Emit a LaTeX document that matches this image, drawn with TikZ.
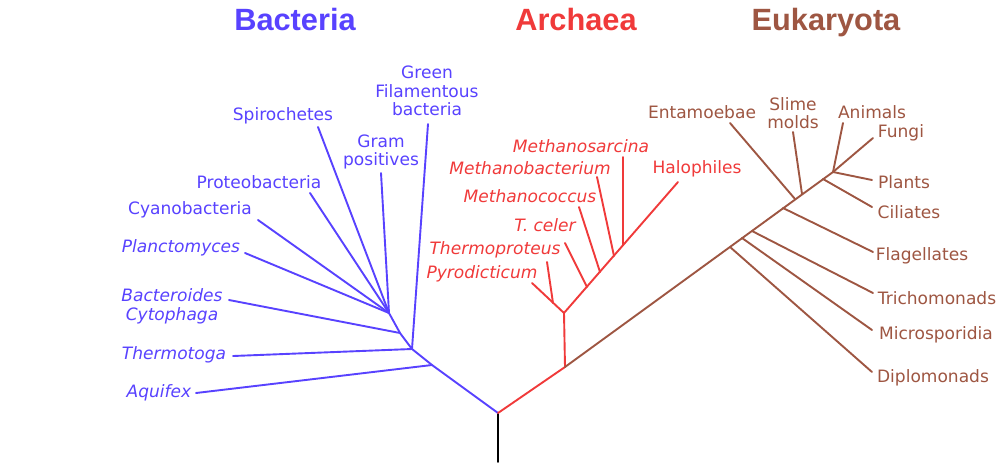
\documentclass[tikz,border=0pt]{standalone}
\usepackage{fontspec}
\setmainfont{DejaVu Sans}
\newfontfamily\titlefont{Liberation Sans}
\definecolor{bactc}{RGB}{88,66,255}
\definecolor{archc}{RGB}{240,58,58}
\definecolor{eukc}{RGB}{158,86,66}
\begin{document}
\begin{tikzpicture}[x=0.2mm,y=-0.2mm,
  br/.style={line width=0.38mm,line cap=round,line join=round},
  lab/.style={inner sep=0pt,align=center,font=\fontsize{9.7}{10.6}\selectfont},
  ilab/.style={lab,font=\fontsize{9.7}{10.6}\selectfont\itshape},
  ttl/.style={inner sep=0pt,anchor=base,font=\titlefont\bfseries\fontsize{17.5}{20}\selectfont}]
\useasboundingbox (0,0) rectangle (1000,462);
% titles
\node[ttl,text=bactc] (tb) at (295,30) {Bacteria};
\node[ttl,text=archc] (ta) at (576,30) {Archaea};
\node[ttl,text=eukc] (te) at (826,30) {Eukaryota};
% ---------- coordinates
\coordinate (bot) at (498,462);
\coordinate (root) at (498,413);
% bacteria
\coordinate (bA) at (432,365);
\coordinate (bT) at (412,349);
\coordinate (bB) at (400,333);
\coordinate (bF) at (389,313);
\coordinate (tAq) at (196,393);
\coordinate (tTh) at (233,356);
\coordinate (tGF) at (428,124);
\coordinate (tBa) at (229,300);
\coordinate (tPl) at (245,253);
\coordinate (tCy) at (258,220);
\coordinate (tPr) at (310,193);
\coordinate (tSp) at (318,127);
\coordinate (tGP) at (381,173);
% archaea
\coordinate (a0) at (565,367);
\coordinate (a1) at (564,313);
\coordinate (tHa) at (678,182);
\coordinate (tPy) at (532,283);
\coordinate (jTp) at (553,303);
\coordinate (tTp) at (547,262);
\coordinate (jTc) at (587,287);
\coordinate (tTc) at (565,243);
\coordinate (jMc) at (600,272);
\coordinate (tMc) at (579,207);
\coordinate (jMb) at (614,256);
\coordinate (tMb) at (597,177);
\coordinate (jMs) at (623,245);
\coordinate (tMs) at (623,157);
% eukaryota
\coordinate (e1) at (833,172);
\coordinate (jDi) at (730,247);
\coordinate (jMi) at (742,238);
\coordinate (jTr) at (752,231);
\coordinate (jFl) at (783,208);
\coordinate (jEn) at (795,199);
\coordinate (jSl) at (802,194);
\coordinate (jCi) at (823,179);
\coordinate (tFu) at (873,138);
\coordinate (tAn) at (843,123);
\coordinate (tPa) at (872,180);
\coordinate (tCi) at (872,207);
\coordinate (tSl) at (793,132);
\coordinate (tEn) at (730,123);
\coordinate (tFl) at (873,252);
\coordinate (tTr) at (873,293);
\coordinate (tMi) at (872,330);
\coordinate (tDi) at (872,372);
% ---------- branches
\draw[br,black] (bot) -- (root);
\draw[br,bactc] (root) -- (bA) -- (bT) -- (bB) -- (bF);
\draw[br,bactc] (bA) -- (tAq);
\draw[br,bactc] (bT) -- (tTh);
\draw[br,bactc] (bT) -- (tGF);
\draw[br,bactc] (bB) -- (tBa);
\draw[br,bactc] (bF) -- (tPl);
\draw[br,bactc] (bF) -- (tCy);
\draw[br,bactc] (bF) -- (tPr);
\draw[br,bactc] (bF) -- (tSp);
\draw[br,bactc] (bF) -- (tGP);
\draw[br,archc] (root) -- (a0) -- (a1);
\draw[br,archc] (a1) -- (tHa);
\draw[br,archc] (a1) -- (tPy);
\draw[br,archc] (jTp) -- (tTp);
\draw[br,archc] (jTc) -- (tTc);
\draw[br,archc] (jMc) -- (tMc);
\draw[br,archc] (jMb) -- (tMb);
\draw[br,archc] (jMs) -- (tMs);
\draw[br,eukc] (a0) -- (e1);
\draw[br,eukc] (e1) -- (tFu);
\draw[br,eukc] (e1) -- (tAn);
\draw[br,eukc] (e1) -- (tPa);
\draw[br,eukc] (jCi) -- (tCi);
\draw[br,eukc] (jSl) -- (tSl);
\draw[br,eukc] (jEn) -- (tEn);
\draw[br,eukc] (jFl) -- (tFl);
\draw[br,eukc] (jTr) -- (tTr);
\draw[br,eukc] (jMi) -- (tMi);
\draw[br,eukc] (jDi) -- (tDi);
% ---------- labels
\begin{scope}[text=bactc]
\node[lab] (lGF) at (427,91) {Green\\Filamentous\\bacteria};
\node[lab] (lSp) at (283,116) {Spirochetes};
\node[lab] (lGP) at (381,152) {Gram\\positives};
\node[lab] (lPr) at (259,182) {Proteobacteria};
\node[lab] (lCy) at (190,210) {Cyanobacteria};
\node[ilab] (lPl) at (181,248) {Planctomyces};
\node[ilab] (lBa) at (172,306) {Bacteroides\\Cytophaga};
\node[ilab] (lTh) at (174,355) {Thermotoga};
\node[ilab] (lAq) at (159,393) {Aquifex};
\end{scope}
\begin{scope}[text=archc]
\node[ilab] (lMs) at (581,146) {Methanosarcina};
\node[ilab] (lMb) at (530,168) {Methanobacterium};
\node[ilab] (lMc) at (530,196) {Methanococcus};
\node[ilab] (lTc) at (545,225) {T. celer};
\node[ilab] (lTp) at (495,250) {Thermoproteus};
\node[ilab] (lPy) at (482,274) {Pyrodicticum};
\node[lab] (lHa) at (697,169) {Halophiles};
\end{scope}
\begin{scope}[text=eukc]
\node[lab] (lEn) at (702,112) {Entamoebae};
\node[lab] (lSl) at (793,113) {Slime\\molds};
\node[lab] (lAn) at (872,112) {Animals};
\node[lab] (lFu) at (901,133) {Fungi};
\node[lab] (lPa) at (904,182) {Plants};
\node[lab] (lCi) at (909,212) {Ciliates};
\node[lab] (lFl) at (922,256) {Flagellates};
\node[lab] (lTr) at (937,298) {Trichomonads};
\node[lab] (lMi) at (936,335) {Microsporidia};
\node[lab] (lDi) at (933,378) {Diplomonads};
\end{scope}
\end{tikzpicture}
\end{document}
